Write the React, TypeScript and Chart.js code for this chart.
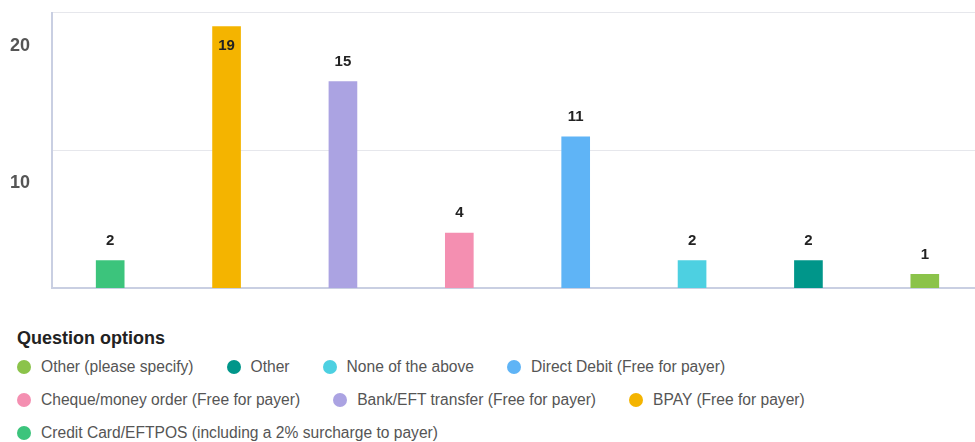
import React, { useEffect, useRef } from "react";
import { Chart, registerables } from "chart.js";

Chart.register(...registerables);

const categories = [
  "Credit Card/EFTPOS (including a 2% surcharge to payer)",
  "BPAY (Free for payer)",
  "Bank/EFT transfer (Free for payer)",
  "Cheque/money order (Free for payer)",
  "Direct Debit (Free for payer)",
  "None of the above",
  "Other",
  "Other (please specify)",
];
const values = [2, 19, 15, 4, 11, 2, 2, 1];
const colors = [
  "#3cc47c",
  "#f4b400",
  "#aba3e2",
  "#f48fb1",
  "#5fb4f6",
  "#4dd0e1",
  "#00968a",
  "#8bc34a",
];
const yTicks = [0, 10, 20];
const legendTitle = "Question options";

const FONT = "'Liberation Sans', Arial, Helvetica, sans-serif";

const valueLabels = {
  id: "valueLabels",
  afterDatasetsDraw(chart: any) {
    const { ctx, chartArea } = chart;
    const meta = chart.getDatasetMeta(0);
    ctx.save();
    ctx.font = `bold 15px ${FONT}`;
    ctx.fillStyle = "#222";
    ctx.textAlign = "center";
    ctx.textBaseline = "middle";
    meta.data.forEach((bar: any, i: number) => {
      let y = bar.y - 20;
      if (y < chartArea.top + 8) y = bar.y + 19;
      ctx.fillText(String(values[i]), bar.x, y);
    });
    ctx.restore();
  },
};

function ChartView() {
  const ref = useRef<HTMLCanvasElement | null>(null);
  useEffect(() => {
    if (!ref.current) return;
    const chart = new Chart(ref.current, {
      type: "bar",
      data: {
        labels: categories,
        datasets: [
          {
            data: values,
            backgroundColor: colors,
            barThickness: 28,
          },
        ],
      },
      options: {
        animation: false,
        responsive: false,
        maintainAspectRatio: false,
        layout: { padding: { top: 0, right: 7, bottom: 1, left: 0 } },
        plugins: {
          legend: { display: false },
          tooltip: { enabled: false },
        },
        scales: {
          x: {
            ticks: { display: false },
            grid: { display: false, drawTicks: false },
            border: { display: true, color: "#c9cfe2", width: 2 },
          },
          y: {
            min: 0,
            max: 20,
            afterBuildTicks: (scale: any) => {
              scale.ticks = yTicks.map((v) => ({ value: v }));
            },
            afterFit: (scale: any) => {
              scale.width = 52;
            },
            ticks: {
              labelOffset: 33,
              padding: 22,
              color: "#555",
              font: { family: FONT, size: 18, weight: "bold" },
              callback: (v: any) => (v === 0 ? "" : String(v)),
            },
            grid: { color: "#e6e7ec", drawTicks: false },
            border: { display: true, color: "#c9cfe2", width: 2 },
          },
        },
      },
      plugins: [valueLabels],
    });
    return () => chart.destroy();
  }, []);
  return <canvas ref={ref} width={990} height={341} style={{ display: "block", width: 990, height: 341 }} />;
}

export default function App() {
  const legendOrder = categories.map((c, i) => i).reverse();
  return (
    <div
      style={{
        position: "absolute",
        left: 0,
        top: 0,
        width: 975,
        height: 442,
        overflow: "hidden",
        background: "#fff",
        fontFamily: FONT,
      }}
    >
      <div style={{ position: "absolute", left: 0, top: -20 }}>
        <ChartView />
      </div>
      <div style={{ position: "absolute", left: 17, top: 328, width: 955 }}>
        <div style={{ fontWeight: "bold", fontSize: 18, lineHeight: "20px", color: "#222" }}>{legendTitle}</div>
        <div
          style={{
            display: "flex",
            flexWrap: "wrap",
            columnGap: 33,
            marginTop: 2.5,
          }}
        >
          {legendOrder.map((i) => (
            <div
              key={i}
              style={{ display: "flex", alignItems: "center", height: 33, whiteSpace: "nowrap" }}
            >
              <span
                style={{
                  display: "inline-block",
                  width: 14,
                  height: 14,
                  borderRadius: "50%",
                  background: colors[i],
                  marginRight: 10,
                }}
              />
              <span style={{ fontSize: 15.6, color: "#555" }}>{categories[i]}</span>
            </div>
          ))}
        </div>
      </div>
    </div>
  );
}
